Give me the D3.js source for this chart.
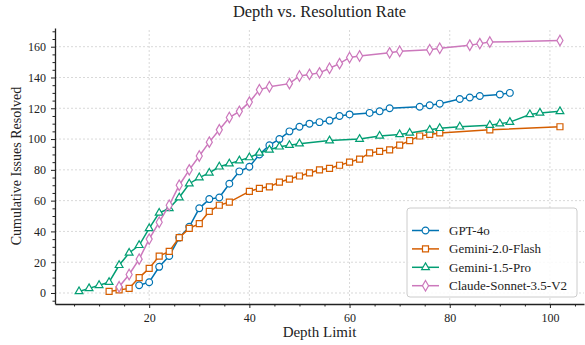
<!DOCTYPE html>
<html>
<head>
<meta charset="utf-8">
<script src="https://cdn.jsdelivr.net/npm/d3@7"></script>
<style>
  body { margin: 0; background: #fff; }
  svg { font-family: "Liberation Serif", "DejaVu Serif", serif; }
</style>
</head>
<body>
<svg id="chart" width="585" height="345"></svg>
<script>
// Values
const gptDepth = [18, 20, 22, 24, 26, 28, 30, 32, 34, 36, 38, 40, 42, 44, 46, 48, 50, 52, 54, 56, 58, 60, 64, 66, 68, 74, 76, 78, 82, 84, 86, 90, 92];
const gptSolved = [5, 7, 17, 24, 36, 43, 55, 61, 62, 71, 79, 82, 90, 96, 100, 105, 108, 110, 111, 112, 115, 116, 117, 118, 120, 121, 122, 123, 126, 127, 128, 129, 130];

const flashDepth = [12, 14, 16, 18, 20, 22, 24, 26, 28, 30, 32, 34, 36, 40, 42, 44, 46, 48, 50, 52, 54, 56, 58, 60, 62, 64, 66, 68, 70, 72, 74, 76, 78, 88, 102];
const flashSolved = [1, 2, 3, 10, 16, 24, 27, 36, 42, 45, 53, 57, 59, 66, 68, 69, 72, 74, 76, 78, 80, 81, 83, 85, 87, 91, 92, 93, 96, 99, 102, 103, 104, 106, 108];

const proDepth = [6, 8, 10, 12, 14, 16, 18, 20, 22, 24, 26, 28, 30, 32, 34, 36, 38, 40, 42, 44, 46, 48, 50, 56, 62, 66, 70, 72, 76, 78, 82, 88, 90, 92, 96, 98, 102];
const proSolved = [1, 3, 5, 7, 18, 26, 31, 42, 52, 55, 62, 71, 75, 78, 82, 84, 86, 88, 91, 93, 95, 96, 97, 99, 100, 102, 103, 104, 106, 107, 108, 109, 110, 111, 116, 117, 118];

const claudeDepth = [14, 16, 18, 20, 22, 24, 26, 28, 30, 32, 34, 36, 38, 40, 42, 44, 48, 50, 52, 54, 56, 58, 60, 62, 68, 70, 76, 78, 84, 86, 88, 102];
const claudeSolved = [4, 12, 22, 35, 46, 57, 70, 80, 89, 98, 106, 114, 118, 124, 132, 134, 136, 141, 142, 143, 146, 149, 153, 154, 156, 157, 158, 159, 161, 162, 163, 164];

const seriesNames = ["GPT-4o", "Gemini-2.0-Flash", "Gemini-1.5-Pro", "Claude-Sonnet-3.5-V2"];
const seriesColors = ["#0173b2", "#d55e00", "#029e73", "#cc78bc"];
const seriesSymbols = [d3.symbolCircle, d3.symbolSquare, d3.symbolTriangle, d3.symbolDiamond];
const xTicks = [20, 40, 60, 80, 100];
const yTicks = [0, 20, 40, 60, 80, 100, 120, 140, 160];

const series = [
  { depth: gptDepth, solved: gptSolved },
  { depth: flashDepth, solved: flashSolved },
  { depth: proDepth, solved: proSolved },
  { depth: claudeDepth, solved: claudeSolved }
].map((s, i) => ({
  name: seriesNames[i],
  color: seriesColors[i],
  symbol: seriesSymbols[i],
  points: s.depth.map((d, j) => ({ x: d, y: s.solved[j] }))
}));

const svg = d3.select("#chart");
const margin = { left: 55, right: 1, top: 28, bottom: 41 };
const width = 585, height = 345;

const x = d3.scaleLinear().domain([1.2, 106.8]).range([margin.left, width - margin.right]);
const y = d3.scaleLinear().domain([-7.15, 172.15]).range([height - margin.bottom, margin.top]);

// grid
const grid = svg.append("g");
grid.selectAll(".gx").data(xTicks).enter().append("line")
  .attr("x1", d => x(d)).attr("x2", d => x(d))
  .attr("y1", y.range()[0]).attr("y2", y.range()[1])
  .attr("stroke", "#d9d9d9").attr("stroke-width", 1).attr("stroke-dasharray", "2,2");
grid.selectAll(".gy").data(yTicks).enter().append("line")
  .attr("x1", x.range()[0]).attr("x2", x.range()[1])
  .attr("y1", d => y(d)).attr("y2", d => y(d))
  .attr("stroke", "#d9d9d9").attr("stroke-width", 1).attr("stroke-dasharray", "2,2");

// axes
const xMinor = d3.range(5, 107, 5).filter(v => v % 20 !== 0);
const yMinor = d3.range(-5, 172, 5).filter(v => v % 20 !== 0);

const xAxis = svg.append("g").attr("transform", `translate(0,${y.range()[0]})`);
xAxis.call(d3.axisBottom(x).tickValues(xTicks).tickSize(4).tickPadding(5).tickSizeOuter(0));
xAxis.append("g").call(d3.axisBottom(x).tickValues(xMinor).tickSize(2.5).tickFormat("").tickSizeOuter(0))
  .select(".domain").remove();

const yAxis = svg.append("g").attr("transform", `translate(${x.range()[0]},0)`);
yAxis.call(d3.axisLeft(y).tickValues(yTicks).tickSize(4).tickPadding(5).tickSizeOuter(0));
yAxis.append("g").call(d3.axisLeft(y).tickValues(yMinor).tickSize(2.5).tickFormat("").tickSizeOuter(0))
  .select(".domain").remove();

svg.selectAll(".domain").attr("stroke", "#222").attr("stroke-width", 1.3);
svg.selectAll(".tick line").attr("stroke", "#222");
svg.selectAll(".tick text").attr("fill", "#222").style("font-size", "12px")
  .style("font-family", "'Liberation Serif', serif");

// lines and markers
const line = d3.line().x(d => x(d.x)).y(d => y(d.y));
series.forEach(s => {
  const g = svg.append("g");
  g.append("path").datum(s.points)
    .attr("d", line).attr("fill", "none")
    .attr("stroke", s.color).attr("stroke-width", 1.5);
  const size = s.symbol === d3.symbolTriangle ? 26 : (s.symbol === d3.symbolDiamond ? 32 : 36);
  g.selectAll("path.m").data(s.points).enter().append("path")
    .attr("class", "m")
    .attr("d", d3.symbol().type(s.symbol).size(size))
    .attr("transform", d => `translate(${x(d.x)},${y(d.y)})`)
    .attr("fill", "#fff").attr("stroke", s.color).attr("stroke-width", 1.2);
});

// legend
const lg = svg.append("g").attr("transform", "translate(407,208)");
lg.append("rect").attr("width", 170).attr("height", 89).attr("rx", 3)
  .attr("fill", "#fff").attr("fill-opacity", 0.85)
  .attr("stroke", "#cccccc").attr("stroke-width", 1);
series.forEach((s, i) => {
  const row = lg.append("g").attr("transform", `translate(0,${22.5 + i * 18.4})`);
  row.append("line").attr("x1", 5).attr("x2", 32).attr("stroke", s.color).attr("stroke-width", 1.5);
  const size = s.symbol === d3.symbolTriangle ? 26 : (s.symbol === d3.symbolDiamond ? 32 : 36);
  row.append("path").attr("d", d3.symbol().type(s.symbol).size(size))
    .attr("transform", "translate(18.5,0)")
    .attr("fill", "#fff").attr("stroke", s.color).attr("stroke-width", 1.2);
  row.append("text").attr("x", 42).attr("dy", "0.35em")
    .style("font-size", "13px").attr("fill", "#222").text(s.name);
});

// titles
svg.append("text").attr("x", (x.range()[0] + x.range()[1]) / 2).attr("y", 17)
  .attr("text-anchor", "middle").style("font-size", "16.5px").attr("fill", "#222")
  .text("Depth vs. Resolution Rate");
svg.append("text").attr("x", (x.range()[0] + x.range()[1]) / 2).attr("y", 337)
  .attr("text-anchor", "middle").style("font-size", "15px").attr("fill", "#222")
  .text("Depth Limit");
svg.append("text")
  .attr("transform", `translate(21,${(y.range()[0] + y.range()[1]) / 2}) rotate(-90)`)
  .attr("text-anchor", "middle").style("font-size", "14px").attr("fill", "#222")
  .text("Cumulative Issues Resolved");
</script>
</body>
</html>
